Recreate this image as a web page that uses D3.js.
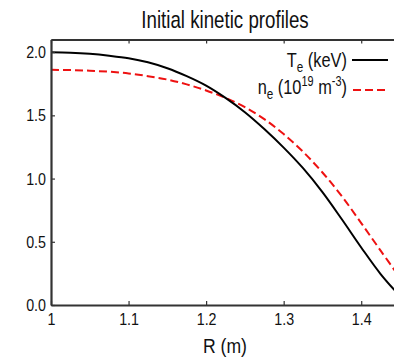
<!DOCTYPE html>
<html>
<head>
<meta charset="utf-8">
<script src="https://cdn.jsdelivr.net/npm/d3@7"></script>
<style>
  html, body { margin: 0; padding: 0; background: #fff; overflow: hidden; }
  svg { display: block; font-family: "Liberation Sans", Arial, sans-serif; }
</style>
</head>
<body>
<svg id="chart" width="394" height="358"></svg>
<script>
// ---- data ----
const R = [1.000, 1.025, 1.050, 1.075, 1.100, 1.125, 1.150, 1.175, 1.200, 1.225,
           1.250, 1.275, 1.300, 1.325, 1.350, 1.375, 1.400, 1.425, 1.450];
const Te = [2.000, 1.996, 1.987, 1.972, 1.952, 1.920, 1.873, 1.810, 1.735, 1.638,
            1.525, 1.392, 1.245, 1.082, 0.893, 0.678, 0.455, 0.245, 0.070];
const ne = [1.860, 1.858, 1.853, 1.845, 1.832, 1.810, 1.783, 1.745, 1.697, 1.638,
            1.565, 1.470, 1.352, 1.212, 1.048, 0.860, 0.648, 0.430, 0.215];
const xTicks = [1, 1.1, 1.2, 1.3, 1.4];
const xTickLabels = ["1", "1.1", "1.2", "1.3", "1.4"];
const yTicks = [0, 0.5, 1.0, 1.5, 2.0];
const yTickLabels = ["0.0", "0.5", "1.0", "1.5", "2.0"];
const title = "Initial kinetic profiles";
const xLabel = "R (m)";

// ---- layout ----
const svg = d3.select("#chart");
const x = d3.scaleLinear().domain([1, 1.45]).range([51, 400]);
const y = d3.scaleLinear().domain([0, 2.1]).range([305, 39.5]);
const axisColor = "#333";
const sx = 0.84;

// curves
const line = (vals) => d3.line()
  .x((d, i) => x(R[i]))
  .y(d => y(d))
  .curve(d3.curveCatmullRom.alpha(0.5))(vals);

svg.append("path").attr("d", line(ne))
  .attr("fill", "none").attr("stroke", "#ee1111").attr("stroke-width", 2)
  .attr("stroke-dasharray", "8,4");
svg.append("path").attr("d", line(Te))
  .attr("fill", "none").attr("stroke", "#000").attr("stroke-width", 2);

// axes
function styleAxis(g) {
  g.attr("font-size", null).attr("font-family", null);
  g.select(".domain").attr("stroke", axisColor).attr("stroke-width", 2.2);
  g.selectAll(".tick line").attr("stroke", axisColor).attr("stroke-width", 1.2);
  g.selectAll(".tick text").attr("fill", "#111").attr("font-size", 17)
    .attr("transform", `scale(${sx},1)`);
}

svg.append("g").attr("transform", `translate(0,${y(0)})`)
  .call(d3.axisBottom(x).tickValues(xTicks)
    .tickFormat((d, i) => xTickLabels[i]).tickSize(-4).tickSizeOuter(0).tickPadding(8))
  .call(styleAxis);

svg.append("g").attr("transform", `translate(0,${y(2.1)})`)
  .call(d3.axisTop(x).tickValues(xTicks).tickFormat("").tickSize(-4).tickSizeOuter(0))
  .call(styleAxis);

svg.append("g").attr("transform", `translate(${x(1)},0)`)
  .call(d3.axisLeft(y).tickValues(yTicks)
    .tickFormat((d, i) => yTickLabels[i]).tickSize(-4).tickSizeOuter(0).tickPadding(6))
  .call(styleAxis);

svg.append("g").attr("transform", `translate(${x(1.45)},0)`)
  .call(d3.axisRight(y).tickValues(yTicks).tickFormat("").tickSize(-4).tickSizeOuter(0))
  .call(styleAxis);

// title
svg.append("g").attr("transform", "translate(225,28) scale(0.78,1)")
  .append("text").attr("text-anchor", "middle").attr("font-size", 24)
  .attr("fill", "#111").text(title);

// x label
svg.append("g").attr("transform", "translate(225,353) scale(0.88,1)")
  .append("text").attr("text-anchor", "middle").attr("font-size", 20)
  .attr("fill", "#111").text(xLabel);

// legend
const lg1 = svg.append("g").attr("transform", "translate(347,67) scale(0.78,1)")
  .append("text").attr("text-anchor", "end").attr("font-size", 21).attr("fill", "#111");
lg1.append("tspan").text("T");
lg1.append("tspan").attr("font-size", 15).attr("dy", 5).text("e");
lg1.append("tspan").attr("dy", -5).text(" (keV)");
svg.append("line").attr("x1", 352).attr("x2", 388).attr("y1", 60).attr("y2", 60)
  .attr("stroke", "#000").attr("stroke-width", 2);

const lg2 = svg.append("g").attr("transform", "translate(347,94) scale(0.78,1)")
  .append("text").attr("text-anchor", "end").attr("font-size", 21).attr("fill", "#111");
lg2.append("tspan").text("n");
lg2.append("tspan").attr("font-size", 15).attr("dy", 5).text("e");
lg2.append("tspan").attr("dy", -5).text(" (10");
lg2.append("tspan").attr("font-size", 14).attr("dy", -8).text("19");
lg2.append("tspan").attr("dy", 8).text(" m");
lg2.append("tspan").attr("font-size", 14).attr("dy", -8).text("-3");
lg2.append("tspan").attr("dy", 8).text(")");
svg.append("line").attr("x1", 353).attr("x2", 387).attr("y1", 90).attr("y2", 90)
  .attr("stroke", "#ee1111").attr("stroke-width", 2).attr("stroke-dasharray", "8,4");
</script>
</body>
</html>
